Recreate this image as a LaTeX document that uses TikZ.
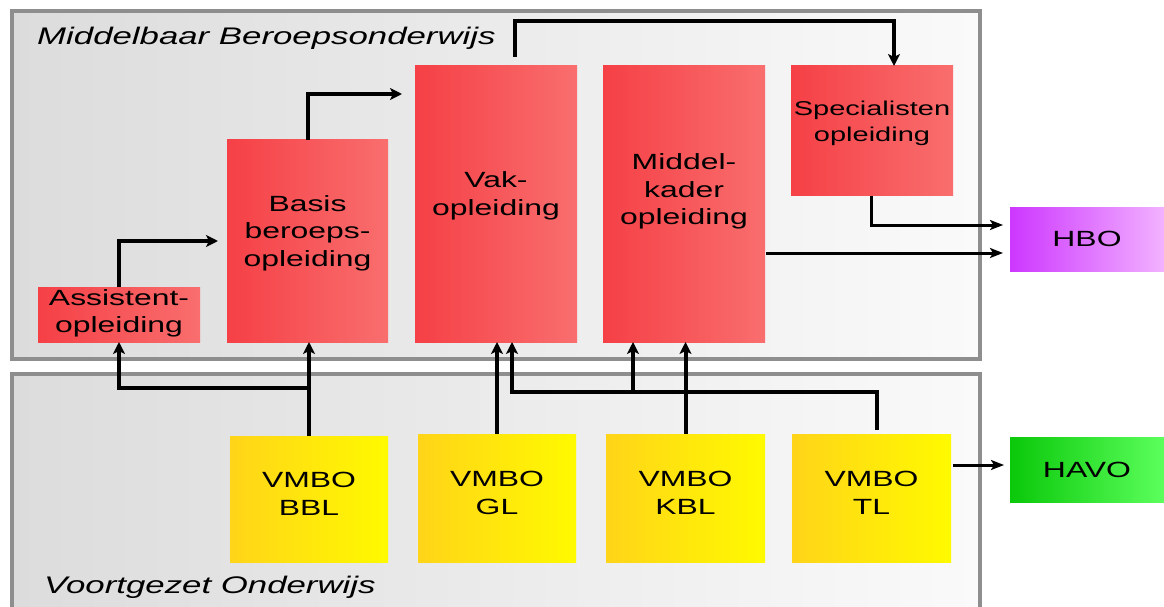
\documentclass[tikz,border=0pt]{standalone}
\usepackage{fontspec}
\newfontfamily\boxfont[FakeStretch=1.45]{Liberation Sans}
\usetikzlibrary{arrows.meta,calc}

\definecolor{frameL}{RGB}{220,220,220}
\definecolor{frameR}{RGB}{250,250,250}
\definecolor{frameLine}{RGB}{142,142,142}
\definecolor{redL}{RGB}{245,64,70}
\definecolor{redR}{RGB}{249,110,110}
\definecolor{yelL}{RGB}{255,212,25}
\definecolor{yelR}{RGB}{255,250,0}
\definecolor{hboL}{RGB}{205,55,255}
\definecolor{hboR}{RGB}{242,178,255}
\definecolor{havoL}{RGB}{10,200,10}
\definecolor{havoR}{RGB}{92,255,92}

\begin{document}
\begin{tikzpicture}[x=1pt,y=-1pt,
  frame/.style={draw=frameLine,line width=4pt,left color=frameL,right color=frameR},
  block/.style={inner sep=0pt,outer sep=0pt,draw=none},
  redbox/.style={block,left color=redL,right color=redR},
  yelbox/.style={block,left color=yelL,right color=yelR},
  hbobox/.style={block,left color=hboL,right color=hboR},
  havobox/.style={block,left color=havoL,right color=havoR},
  txt/.style={font=\boxfont\fontsize{22}{27.5}\selectfont,align=center,inner sep=0pt},
  smalltxt/.style={font=\boxfont\fontsize{20}{26}\selectfont,align=center,inner sep=0pt},
  title/.style={font=\boxfont\itshape\fontsize{24}{28}\selectfont,anchor=base west,inner sep=0pt},
  arr/.style={line width=4pt,line join=miter,-{Stealth[length=12pt,width=12pt,inset=3pt]}},
  thinarr/.style={line width=3pt,line join=miter,-{Stealth[length=13pt,width=10pt,inset=3pt]}}
]
\useasboundingbox (0,0) rectangle (1164,607);
\clip (0,0) rectangle (1164,607);
\fill[white] (0,0) rectangle (1164,607);

% the two school-type frames
\draw[frame] (12,11) rectangle (980,359);
\draw[frame] (12,374) rectangle (980,640);
\node[title] (mbo) at (37,45) {Middelbaar Beroepsonderwijs};
\node[title] (vo) at (44,593) {Voortgezet Onderwijs};

% MBO levels
\node[redbox,minimum width=162pt,minimum height=55pt] (assist) at (119,314.5) {};
\node[redbox,minimum width=161pt,minimum height=202pt] (basis) at (307.5,241) {};
\node[redbox,minimum width=162pt,minimum height=276pt] (vak) at (496,204) {};
\node[redbox,minimum width=162pt,minimum height=276pt] (mk) at (684,204) {};
\node[redbox,minimum width=162pt,minimum height=129pt] (spec) at (872,130.5) {};

\node[txt] (assistT) at ($(assist.center)+(0,-1)$) {Assistent-\\opleiding};
\node[txt] (basisT) at ($(basis.center)+(0,-8)$) {Basis\\beroeps-\\opleiding};
\node[txt] (vakT) at ($(vak.center)+(0,-8)$) {Vak-\\opleiding};
\node[txt] (mkT) at ($(mk.center)+(0,-12.5)$) {Middel-\\kader\\opleiding};
\node[smalltxt] (specT) at ($(spec.center)+(0,-7.5)$) {Specialisten\\opleiding};

% VMBO tracks
\node[yelbox,minimum width=158pt,minimum height=126pt] (bbl) at (309,499) {};
\node[yelbox,minimum width=158pt,minimum height=128pt] (gl) at (497,498) {};
\node[yelbox,minimum width=159pt,minimum height=128pt] (kbl) at (685.5,498) {};
\node[yelbox,minimum width=159pt,minimum height=128pt] (tl) at (871.5,498) {};

\node[txt] (bblT) at ($(bbl.center)+(0,-5)$) {VMBO\\BBL};
\node[txt] (glT) at ($(gl.center)+(0,-5)$) {VMBO\\GL};
\node[txt] (kblT) at ($(kbl.center)+(0,-5)$) {VMBO\\KBL};
\node[txt] (tlT) at ($(tl.center)+(0,-5)$) {VMBO\\TL};

% follow-up education
\node[hbobox,minimum width=154pt,minimum height=64pt] (hbo) at (1087,239) {};
\node[havobox,minimum width=154pt,minimum height=65pt] (havo) at (1087,469.5) {};
\node[txt] (hboT) at (hbo.center) {HBO};
\node[txt] (havoT) at (havo.center) {HAVO};

% progression inside MBO
\draw[arr] (assist.north) |- ($(basis.west)+(-9,0)$);
\draw[arr] (basis.north) |- ($(vak.north west)+(-13,28)$);
\draw[arr] ($(vak.north)+(19,-9)$) -- ++(0,-36) -| ($(spec.north)+(22,0)$);
\draw[thinarr] ($(spec.south)+(-1,1)$) |- ($(hbo.west)+(-7,-14)$);
\draw[thinarr] ($(mk.east)+(1,49)$) -- ($(hbo.west)+(-7,14)$);

% from VMBO into MBO
\coordinate (bblJ) at ($(bbl.north)+(0,-48)$);
\draw[arr] (bbl.north) -- (bbl.north |- basis.south);
\draw[arr] (bblJ) -| (assist.south);
\draw[arr] (gl.north) -- (gl.north |- vak.south);
\draw[arr] (kbl.north) -- (kbl.north |- mk.south);
\coordinate (tlJ) at ($(mk.south)+(-51,50)$);
\draw[arr] ($(tl.north)+(5,-4)$) |- ($(vak.south)+(16,50)$) -- ($(vak.south)+(16,0)$);
\draw[arr] (tlJ) -- ($(mk.south)+(-51,0)$);
\draw[thinarr] ($(tl.east)+(2,-33)$) -- ($(havo.west)+(-6,-4.5)$);
\end{tikzpicture}
\end{document}
